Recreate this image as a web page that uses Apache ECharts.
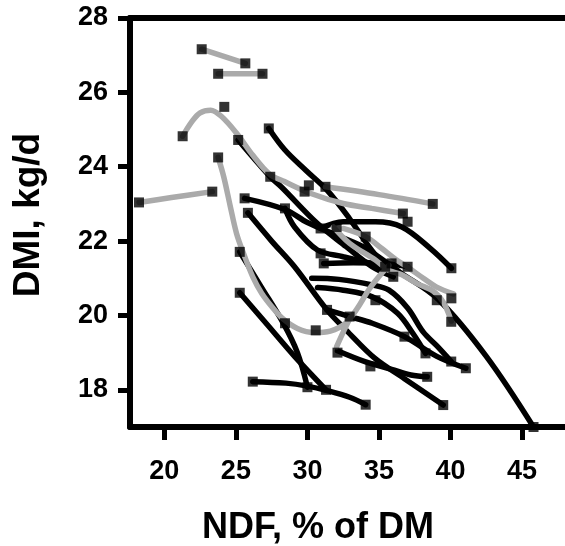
<!DOCTYPE html>
<html>
<head>
<meta charset="utf-8">
<script src="https://cdn.jsdelivr.net/npm/echarts@6/dist/echarts.min.js"></script>
<style>html,body{margin:0;padding:0;background:#fff}#c{width:565px;height:546px}</style>
</head>
<body>
<div id="c"></div>
<script>
// Tick labels
const xTicks = [20, 25, 30, 35, 40, 45];
const yTicks = [18, 20, 22, 24, 26, 28];

// Gray curves (NDF, DMI)
const g1 = [[22.61,27.16],[25.66,26.78]];
const g2 = [[23.76,26.5],[26.86,26.5]];
const g3 = [[18.23,23.04],[20.5,23.17],[23.35,23.33]];
const g4 = [[21.28,24.82],[21.9,25.2],[22.5,25.45],[23.24,25.52],[24.0,25.35],[25.05,24.9],[26.2,24.3],[27.35,23.8],[28.4,23.6],[30.24,23.28],[32.5,23.01],[34.5,22.88],[36.7,22.74]];
const g5 = [[31.26,23.46],[35.0,23.25],[38.76,23.0]];
const g6 = [[23.76,24.25],[24.15,23.73],[24.6,22.95],[25.05,22.2],[25.6,21.6],[26.18,21.04],[26.8,20.6],[27.53,20.23],[28.32,19.9],[29.3,19.65],[30.46,19.54],[31.6,19.58],[32.7,19.8],[33.5,20.2],[34.3,20.7],[35.0,21.05],[35.7,21.35]];
const g7 = [[32.04,19.16],[32.5,19.55],[33.0,19.95]];
const g8 = [[32.5,22.34],[34.07,22.12],[35.2,21.8],[36.2,21.5],[37.0,21.3],[38.1,21.0],[39.0,20.77],[40.2,20.58]];
const g9 = [[31.82,22.38],[32.95,21.94],[34.75,21.49],[35.66,21.22],[36.56,21.1],[37.7,20.85],[38.8,20.65],[39.5,20.35],[40.05,19.85]];

// Black curves (NDF, DMI)
const k1 = [[27.3,25.03],[28.43,24.45],[29.9,23.9],[31.37,23.37],[32.95,22.6],[34.3,21.85],[35.43,21.31]];
const k2 = [[25.16,24.72],[27.4,23.73],[28.2,23.45],[30.68,22.48],[32.71,21.85],[34.52,21.31],[36.0,21.04]];
const k3 = [[30.92,22.34],[32.5,22.52],[34.75,22.52],[36.6,22.38],[38.6,21.8],[40.06,21.27]];
const k4 = [[25.61,23.15],[28.43,22.85],[30.0,22.5],[32.27,22.12],[34.1,21.8],[36.5,21.15],[39.15,20.43],[42.5,18.9],[45.8,17.0]];
const k5 = [[25.84,22.76],[27.5,22.0],[29.1,21.31],[31.36,20.15],[32.72,19.6],[34.7,18.85],[36.78,18.3],[39.49,17.59]];
const k6 = [[25.27,21.71],[26.8,20.75],[28.3,19.8],[29.3,19.0],[30.0,18.07]];
const k7 = [[25.27,20.61],[27.2,19.75],[29.1,18.9],[31.3,18.0]];
const k8 = [[26.18,18.22],[28.5,18.18],[30.0,18.1],[31.36,17.98],[32.95,17.8],[34.07,17.6]];
const m1 = [[28.43,22.88],[29.1,22.38],[30.7,21.76],[32.5,21.58],[35.43,21.31]];
const m2 = [[31.14,21.4],[33.2,21.42],[35.88,21.38],[37.0,21.31]];
const e1 = [[30.3,21.0],[32.2,20.97],[34.53,20.82],[35.7,20.68],[37.0,20.2],[38.1,19.55],[39.05,19.18],[40.05,18.76]];
const e2 = [[30.7,20.75],[32.5,20.68],[34.53,20.5],[36.3,20.06],[37.4,19.5],[38.25,18.98]];
const e3 = [[31.37,20.15],[32.95,19.97],[34.53,19.79],[36.78,19.43],[39.04,18.9],[41.07,18.58]];
const e4 = [[32.1,19.05],[34.07,18.75],[35.88,18.55],[37.23,18.4],[38.37,18.35]];

// Square markers (NDF, DMI)
const markers = [
  [22.61,27.16],[25.66,26.78],[23.76,26.5],[26.86,26.5],[24.19,25.61],[21.28,24.82],[23.76,24.25],[18.23,23.04],[23.35,23.33],
  [27.3,25.03],[25.16,24.72],[27.4,23.73],[25.61,23.15],[25.84,22.76],[28.43,22.88],[25.27,21.71],[25.27,20.61],[26.18,18.22],
  [29.8,23.33],[30.1,23.5],[31.26,23.46],[38.76,23.0],[36.67,22.74],[37.0,22.52],
  [30.92,22.34],[32.04,22.38],[34.07,22.12],[30.92,21.67],[31.14,21.4],[35.43,21.31],[35.88,21.4],[36.0,21.04],[37.0,21.31],
  [34.75,20.41],[31.37,20.15],[32.95,19.97],[30.58,19.6],[28.43,19.79],[39.04,20.41],[40.06,20.46],[40.06,21.27],[40.05,19.83],
  [32.1,19.0],[34.4,18.63],[36.78,19.43],[38.25,18.98],[40.05,18.76],[41.07,18.58],[38.37,18.35],[39.49,17.59],
  [30.0,18.07],[31.3,18.0],[34.07,17.6],[45.8,17.0]
];

const grayLines = [g1,g2,g3,g4,g5,g6,g7,g8,g9];
const blackLines = [k1,k2,k3,k4,k5,k6,k7,k8,m1,m2,e1,e2,e3,e4];

const FONT = '"Liberation Sans", Arial, Helvetica, sans-serif';
const series = [];
blackLines.forEach(d => series.push({
  type:'line', data:d, smooth:0.35, showSymbol:false, symbol:'none', z:2,
  lineStyle:{color:'#000', width:5.5, cap:'round'}
}));
grayLines.forEach(d => series.push({
  type:'line', data:d, smooth:0.35, showSymbol:false, symbol:'none', z:3,
  lineStyle:{color:'#aaaaaa', width:5.5, cap:'round'}
}));
series.push({
  type:'scatter', data:markers, symbol:'rect', symbolSize:10, z:5, clip:false,
  itemStyle:{color:'#000'}
});

const chart = echarts.init(document.getElementById('c'), null, {renderer:'canvas'});
chart.setOption({
  animation:false,
  backgroundColor:'#fff',
  grid:{left:130, top:18, width:449, height:409},
  xAxis:[{
    type:'value', min:17.6, max:48, position:'bottom',
    axisLine:{show:true, onZero:false, lineStyle:{color:'#000', width:6}},
    axisTick:{show:true, customValues:xTicks, length:13, lineStyle:{color:'#000', width:5}},
    axisLabel:{customValues:xTicks, margin:31, fontSize:27, fontWeight:'bold', color:'#000', fontFamily:FONT},
    splitLine:{show:false}
  },{
    type:'value', min:17.6, max:48, position:'top',
    axisLine:{show:true, onZero:false, lineStyle:{color:'#000', width:6}},
    axisTick:{show:false}, axisLabel:{show:false}, splitLine:{show:false}
  }],
  yAxis:{
    type:'value', min:17, max:28,
    axisLine:{show:true, onZero:false, lineStyle:{color:'#000', width:6}},
    axisTick:{show:true, customValues:yTicks, length:12, lineStyle:{color:'#000', width:5}},
    axisLabel:{customValues:yTicks, margin:22, fontSize:27, fontWeight:'bold', color:'#000', fontFamily:FONT},
    splitLine:{show:false}
  },
  graphic:[
    {type:'text', x:318, y:528, style:{text:'NDF, % of DM', textAlign:'center', textVerticalAlign:'middle', font:'bold 36px ' + FONT, fill:'#000'}},
    {type:'text', x:29, y:215, rotation:Math.PI/2, style:{text:'DMI, kg/d', textAlign:'center', textVerticalAlign:'middle', font:'bold 37px ' + FONT, fill:'#000'}}
  ],
  series:series
});
</script>
</body>
</html>
